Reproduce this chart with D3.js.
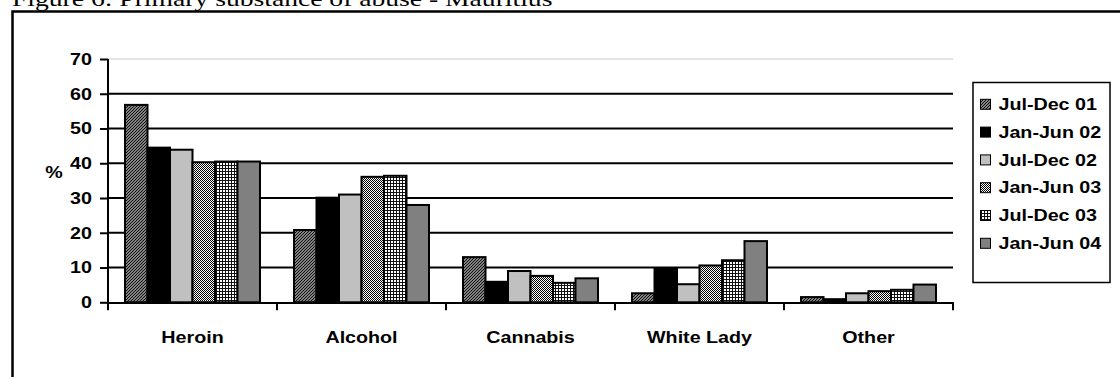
<!DOCTYPE html>
<html>
<head>
<meta charset="utf-8">
<script src="https://cdn.jsdelivr.net/npm/d3@7"></script>
<style>
  html, body { margin: 0; padding: 0; background: #fff; }
  svg { display: block; }
</style>
</head>
<body>
<svg id="chart" width="1120" height="377"></svg>
<script>
// Substances and reporting periods
const categories = ["Heroin", "Alcohol", "Cannabis", "White Lady", "Other"];
const seriesNames = ["Jul-Dec 01", "Jan-Jun 02", "Jul-Dec 02", "Jan-Jun 03", "Jul-Dec 03", "Jan-Jun 04"];

// Percentage of treatment admissions per period
const julDec01 = [56.8, 20.8, 13.0, 2.6, 1.5];
const janJun02 = [44.5, 30.1, 5.9, 9.7, 0.9];
const julDec02 = [43.9, 31.0, 9.0, 5.2, 2.6];
const janJun03 = [40.3, 36.1, 7.6, 10.6, 3.2];
const julDec03 = [40.5, 36.4, 5.6, 12.1, 3.6];
const janJun04 = [40.5, 28.0, 6.9, 17.6, 5.1];

const yTicks = [0, 10, 20, 30, 40, 50, 60, 70];
const titleText = "Figure 6: Primary substance of abuse - Mauritius";
const yAxisLabel = "%";

const seriesValues = [julDec01, janJun02, julDec02, janJun03, julDec03, janJun04];

const svg = d3.select("#chart");
const SX = 1.23; // horizontal stretch applied to all lettering
const SANS = "'Liberation Sans', Arial, sans-serif";

// ---- fill patterns ----
const defs = svg.append("defs");

// fine upward diagonal hatch
const pDiag = defs.append("pattern").attr("id", "pat-diag")
  .attr("patternUnits", "userSpaceOnUse").attr("width", 3).attr("height", 3);
pDiag.append("rect").attr("width", 3).attr("height", 3).attr("fill", "#fff");
pDiag.append("path").attr("d", "M-1,1 L1,-1 M0,3 L3,0 M2,4 L4,2")
  .attr("stroke", "#111").attr("stroke-width", 1.5);

// 50% pixel checker
const pDots = defs.append("pattern").attr("id", "pat-dots")
  .attr("patternUnits", "userSpaceOnUse").attr("width", 2).attr("height", 2);
pDots.append("rect").attr("width", 2).attr("height", 2).attr("fill", "#fff");
pDots.append("rect").attr("x", 0).attr("y", 0).attr("width", 1).attr("height", 1).attr("fill", "#000");
pDots.append("rect").attr("x", 1).attr("y", 1).attr("width", 1).attr("height", 1).attr("fill", "#000");

// small square grid
const pGrid = defs.append("pattern").attr("id", "pat-grid")
  .attr("patternUnits", "userSpaceOnUse").attr("width", 3).attr("height", 3);
pGrid.append("rect").attr("width", 3).attr("height", 3).attr("fill", "#fff");
pGrid.append("rect").attr("x", 0).attr("y", 0).attr("width", 3).attr("height", 1).attr("fill", "#111");
pGrid.append("rect").attr("x", 0).attr("y", 0).attr("width", 1).attr("height", 3).attr("fill", "#111");

const fills = ["url(#pat-diag)", "#000000", "#c0c0c0", "url(#pat-dots)", "url(#pat-grid)", "#808080"];

// helper: stretched text
function stretchedText(sel, x, y, txt, anchor, size, weight, family, sx) {
  return sel.append("text")
    .attr("transform", `translate(${x},${y}) scale(${sx || SX},1)`)
    .attr("text-anchor", anchor)
    .attr("font-family", family || SANS)
    .attr("font-size", size)
    .attr("font-weight", weight || "bold")
    .attr("fill", "#000")
    .text(txt);
}

// ---- title and outer frame ----
stretchedText(svg, 12, 6, titleText, "start", 22, "normal", "'Liberation Serif', 'Times New Roman', serif", 1.255);
svg.append("rect").attr("x", 12.5).attr("y", 11.5).attr("width", 1300).attr("height", 600)
  .attr("fill", "none").attr("stroke", "#000").attr("stroke-width", 2.5);

// ---- scales ----
const plot = { left: 108, right: 953, top: 59, bottom: 302.3 };
const x0 = d3.scaleBand().domain(categories).range([plot.left, plot.right]).padding(0);
const x1 = d3.scaleBand().domain(d3.range(seriesNames.length))
  .range([0, x0.bandwidth()]).paddingInner(0).paddingOuter(0.756);
const y = d3.scaleLinear().domain([0, 70]).range([plot.bottom, plot.top]);

// ---- gridlines ----
const g = svg.append("g");
g.selectAll("line.grid").data(yTicks.filter(t => t > 0)).join("line")
  .attr("class", "grid")
  .attr("x1", plot.left).attr("x2", plot.right)
  .attr("y1", d => y(d)).attr("y2", d => y(d))
  .attr("stroke", d => d === 70 ? "#c8c8c8" : "#000")
  .attr("stroke-width", d => d === 70 ? 1 : 2);

// ---- bars ----
seriesValues.forEach((vals, si) => {
  g.append("g").selectAll("rect").data(vals).join("rect")
    .attr("x", (d, i) => x0(categories[i]) + x1(si))
    .attr("y", d => y(d))
    .attr("width", x1.bandwidth())
    .attr("height", d => y(0) - y(d))
    .attr("fill", fills[si])
    .attr("stroke", "#000")
    .attr("stroke-width", 2);
});

// ---- y axis ----
const yAxis = d3.axisLeft(y).tickValues(yTicks).tickSize(8).tickFormat("");
const ya = svg.append("g").attr("transform", `translate(${plot.left},0)`).call(yAxis);
ya.select(".domain").attr("stroke", "#000").attr("stroke-width", 2).attr("d", `M0,${plot.top}V${plot.bottom + 1}`);
ya.selectAll(".tick line").attr("stroke", "#000").attr("stroke-width", 2);
yTicks.forEach(t => stretchedText(svg, 92, y(t) + 5.8, String(t), "end", 16));
stretchedText(svg, 54, 178, yAxisLabel, "middle", 16);

// ---- x axis ----
const boundaries = categories.map(c => x0(c)).concat([plot.right]);
const xa = svg.append("g");
xa.append("line").attr("x1", plot.left - 1).attr("x2", plot.right + 1)
  .attr("y1", plot.bottom + 0.7).attr("y2", plot.bottom + 0.7)
  .attr("stroke", "#000").attr("stroke-width", 2);
xa.selectAll("line.xt").data(boundaries).join("line").attr("class", "xt")
  .attr("x1", d => d).attr("x2", d => d)
  .attr("y1", plot.bottom).attr("y2", plot.bottom + 8)
  .attr("stroke", "#000").attr("stroke-width", 2);
categories.forEach(c => stretchedText(svg, x0(c) + x0.bandwidth() / 2, 343, c, "middle", 16));

// ---- legend ----
const legend = svg.append("g");
legend.append("rect").attr("x", 973).attr("y", 82.5).attr("width", 137).attr("height", 200)
  .attr("fill", "#fff").attr("stroke", "#000").attr("stroke-width", 1.5);
const legendY = d3.scalePoint().domain(d3.range(seriesNames.length)).range([104.3, 243.3]);
seriesNames.forEach((name, i) => {
  const cy = legendY(i);
  legend.append("rect").attr("x", 980.5).attr("y", cy - 5).attr("width", 10).attr("height", 10)
    .attr("fill", fills[i]).attr("stroke", "#000").attr("stroke-width", 1);
  stretchedText(legend, 998.5, cy + 5.7, name, "start", 16);
});
</script>
</body>
</html>
